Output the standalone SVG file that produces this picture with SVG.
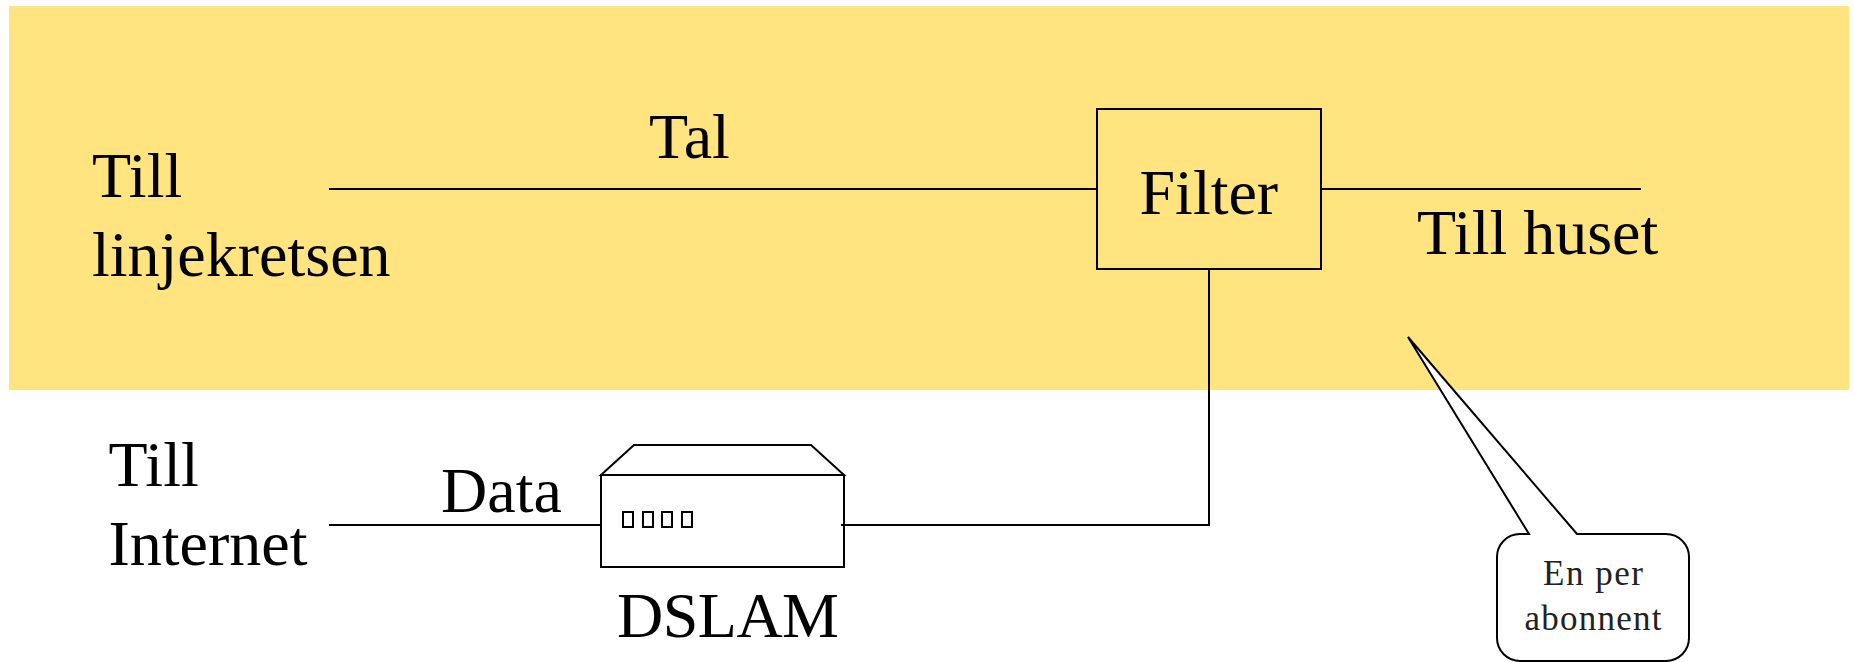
<svg xmlns="http://www.w3.org/2000/svg" width="1854" height="662" viewBox="0 0 1854 662">
<style>
text{font-family:"Liberation Serif","Times New Roman",serif;font-size:64px;fill:#000}
.s{fill:none;stroke:#000;stroke-width:2}
.w{fill:#fff;stroke:#000;stroke-width:2}
.c{font-size:35px;fill:#222;text-anchor:middle}
</style>
<rect width="1854" height="662" fill="#fff"/>
<rect id="band" x="9" y="6" width="1840" height="384" fill="#ffe480"/>
<g id="connectors">
<path class="s" d="M329 189H1097"/>
<path class="s" d="M1321 189H1641"/>
<path class="s" d="M329 525H601"/>
<path class="s" d="M841 525H1209V269"/>
</g>
<g id="filter">
<rect class="s" x="1097" y="109" width="224" height="160"/>
<text x="1139.5" y="214">Filter</text>
</g>
<g id="dslam">
<path class="w" d="M601 475L634 445H811L844 475Z"/>
<rect class="s" x="601" y="475" width="243" height="92"/>
<rect class="s" x="623" y="512" width="10" height="15"/>
<rect class="s" x="643" y="512" width="10" height="15"/>
<rect class="s" x="662" y="512" width="10" height="15"/>
<rect class="s" x="682" y="512" width="10" height="15"/>
<text x="617" y="637" textLength="222" lengthAdjust="spacing">DSLAM</text>
</g>
<g id="callout">
<path class="w" d="M1408 337L1529 534H1520A23 23 0 0 0 1497 557V638A23 23 0 0 0 1520 661H1666A23 23 0 0 0 1689 638V557A23 23 0 0 0 1666 534H1577Z"/>
<text class="c" x="1593" y="585" textLength="100" lengthAdjust="spacing">En per</text>
<text class="c" x="1593" y="630" textLength="137" lengthAdjust="spacing">abonnent</text>
</g>
<g id="labels">
<text x="92" y="197">Till</text>
<text x="92" y="276">linjekretsen</text>
<text x="649" y="158">Tal</text>
<text x="1417" y="254">Till huset</text>
<text x="108.500" y="486">Till</text>
<text x="108.500" y="565">Internet</text>
<text x="441" y="512">Data</text>
</g>
</svg>
